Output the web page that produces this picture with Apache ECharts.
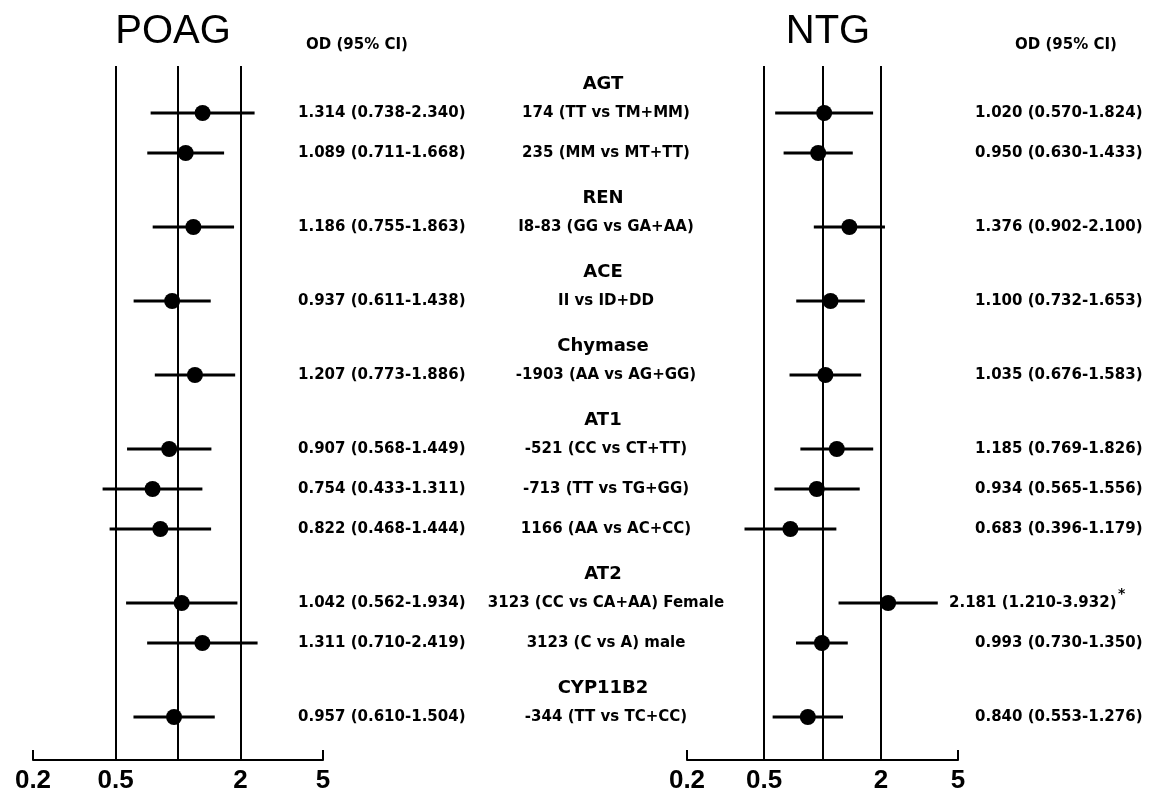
<!DOCTYPE html>
<html>
<head>
<meta charset="utf-8">
<script src="https://cdn.jsdelivr.net/npm/echarts@6/dist/echarts.min.js"></script>
<style>
  html, body { margin: 0; padding: 0; background: #fff; }
  #chart { width: 1160px; height: 800px; }
</style>
</head>
<body>
<div id="chart"></div>
<script>
// genes and the comparison done for each row
const geneNames = ['AGT', 'REN', 'ACE', 'Chymase', 'AT1', 'AT2', 'CYP11B2'];
const geneOfRow = [0, 0, 1, 2, 3, 4, 4, 4, 5, 5, 6];
const comparisons = [
  '174 (TT vs TM+MM)', '235 (MM vs MT+TT)', 'I8-83 (GG vs GA+AA)', 'II vs ID+DD',
  '-1903 (AA vs AG+GG)', '-521 (CC vs CT+TT)', '-713 (TT vs TG+GG)', '1166 (AA vs AC+CC)',
  '3123 (CC vs CA+AA) Female', '3123 (C vs A) male', '-344 (TT vs TC+CC)'
];

// POAG odds ratios and 95% CI
const poagOR   = [1.314, 1.089, 1.186, 0.937, 1.207, 0.907, 0.754, 0.822, 1.042, 1.311, 0.957];
const poagLow  = [0.738, 0.711, 0.755, 0.611, 0.773, 0.568, 0.433, 0.468, 0.562, 0.710, 0.610];
const poagHigh = [2.340, 1.668, 1.863, 1.438, 1.886, 1.449, 1.311, 1.444, 1.934, 2.419, 1.504];

// NTG odds ratios and 95% CI
const ntgOR   = [1.020, 0.950, 1.376, 1.100, 1.035, 1.185, 0.934, 0.683, 2.181, 0.993, 0.840];
const ntgLow  = [0.570, 0.630, 0.902, 0.732, 0.676, 0.769, 0.565, 0.396, 1.210, 0.730, 0.553];
const ntgHigh = [1.824, 1.433, 2.100, 1.653, 1.583, 1.826, 1.556, 1.179, 3.932, 1.350, 1.276];
const ntgStar = [false, false, false, false, false, false, false, false, true, false, false];

const tickLabels = [0.2, 0.5, 2, 5];
const refLines = [0.5, 1, 2];

const FONT = '"DejaVu Sans", sans-serif';
const fmt = v => v.toFixed(3);

// row layout: one step between rows of a gene, a bigger one when a new gene starts
const rowGap = 1, groupGap = 1.85, headerUp = 0.72;
const rowPos = [];
geneOfRow.forEach((g, i) => {
  if (i === 0) rowPos.push(0);
  else rowPos.push(rowPos[i - 1] + (g === geneOfRow[i - 1] ? rowGap : groupGap));
});
const yMin = -1.175, yMax = rowPos[rowPos.length - 1] + 1.075;

let myChart = echarts.init(document.getElementById('chart'));

function xAxisFor(gridIndex) {
  return {
    type: 'log', gridIndex: gridIndex, min: 0.2, max: 5,
    axisLine: { show: true, onZero: false, lineStyle: { color: '#000', width: 2 } },
    axisTick: { show: true, inside: true, length: 10, customValues: [0.2, 5], lineStyle: { color: '#000', width: 2 } },
    axisLabel: {
      customValues: tickLabels, margin: 8, color: '#000', fontSize: 26, fontWeight: 'bold',
      fontFamily: '"Liberation Sans", Arial, sans-serif',
      formatter: v => String(+(+v).toPrecision(3))
    },
    splitLine: { show: false }, minorTick: { show: false }
  };
}
function yAxisFor(gridIndex) {
  return { type: 'value', gridIndex: gridIndex, inverse: true, min: yMin, max: yMax, show: false };
}

function forest(gridIndex, or, low, high, textX, star) {
  return {
    type: 'custom', xAxisIndex: gridIndex, yAxisIndex: gridIndex, z: 3,
    data: or.map((v, i) => [v, low[i], high[i], rowPos[i]]),
    encode: { x: [0, 1, 2], y: 3 },
    renderItem: function (params, api) {
      const i = params.dataIndex;
      const y = api.value(3);
      const c = api.coord([api.value(0), y]);
      const a = api.coord([api.value(1), y]);
      const b = api.coord([api.value(2), y]);
      const starred = star && star[i];
      const tx = starred ? textX - 26 : textX;
      const kids = [
        { type: 'line', shape: { x1: a[0], y1: c[1], x2: b[0], y2: c[1] }, style: { stroke: '#000', lineWidth: 3 } },
        { type: 'circle', shape: { cx: c[0], cy: c[1], r: 8 }, style: { fill: '#000' } },
        { type: 'text', style: {
          text: fmt(or[i]) + ' (' + fmt(low[i]) + '-' + fmt(high[i]) + ')',
          x: tx, y: c[1], textAlign: 'left', textVerticalAlign: 'middle',
          font: 'bold 15px ' + FONT, fill: '#000' } }
      ];
      if (starred) {
        kids.push({ type: 'text', style: { text: '*', x: tx + 169, y: c[1] - 9, textAlign: 'left',
          textVerticalAlign: 'middle', font: 'bold 14px ' + FONT, fill: '#000' } });
      }
      return { type: 'group', children: kids };
    },
    markLine: {
      silent: true, symbol: 'none', z: 1, label: { show: false },
      lineStyle: { color: '#000', width: 2, type: 'solid' },
      data: refLines.map(v => ({ xAxis: v }))
    }
  };
}

// gene names and comparison labels in the middle column
const labelSeries = {
  type: 'custom', xAxisIndex: 0, yAxisIndex: 0,
  data: rowPos.map(p => [1, p]),
  encode: { x: 0, y: 1 },
  renderItem: function (params, api) {
    const i = params.dataIndex;
    const y = api.coord([1, api.value(1)])[1];
    const kids = [{ type: 'text', style: { text: comparisons[i], x: 606, y: y, textAlign: 'center',
      textVerticalAlign: 'middle', font: 'bold 15px ' + FONT, fill: '#000' } }];
    if (i === 0 || geneOfRow[i] !== geneOfRow[i - 1]) {
      const hy = api.coord([1, api.value(1) - headerUp])[1];
      kids.push({ type: 'text', style: { text: geneNames[geneOfRow[i]], x: 603, y: hy, textAlign: 'center',
        textVerticalAlign: 'middle', font: 'bold 18px ' + FONT, fill: '#000' } });
    }
    return { type: 'group', children: kids };
  }
};

const option = {
  backgroundColor: '#fff',
  animation: false,
  grid: [
    { left: 33, width: 290, top: 66, height: 694 },
    { left: 687, width: 271, top: 66, height: 694 }
  ],
  xAxis: [xAxisFor(0), xAxisFor(1)],
  yAxis: [yAxisFor(0), yAxisFor(1)],
  graphic: [
    { type: 'text', x: 173, y: 32, style: { text: 'POAG', textAlign: 'center', textVerticalAlign: 'middle', font: '40px "Liberation Sans", Arial, sans-serif', fill: '#000' } },
    { type: 'text', x: 828, y: 32, style: { text: 'NTG', textAlign: 'center', textVerticalAlign: 'middle', font: '40px "Liberation Sans", Arial, sans-serif', fill: '#000' } },
    { type: 'text', x: 357, y: 45, style: { text: 'OD (95% CI)', textAlign: 'center', textVerticalAlign: 'middle', font: 'bold 15px ' + FONT, fill: '#000' } },
    { type: 'text', x: 1066, y: 45, style: { text: 'OD (95% CI)', textAlign: 'center', textVerticalAlign: 'middle', font: 'bold 15px ' + FONT, fill: '#000' } }
  ],
  series: [
    forest(0, poagOR, poagLow, poagHigh, 298, null),
    forest(1, ntgOR, ntgLow, ntgHigh, 975, ntgStar),
    labelSeries
  ]
};

option && myChart.setOption(option);
</script>
</body>
</html>
